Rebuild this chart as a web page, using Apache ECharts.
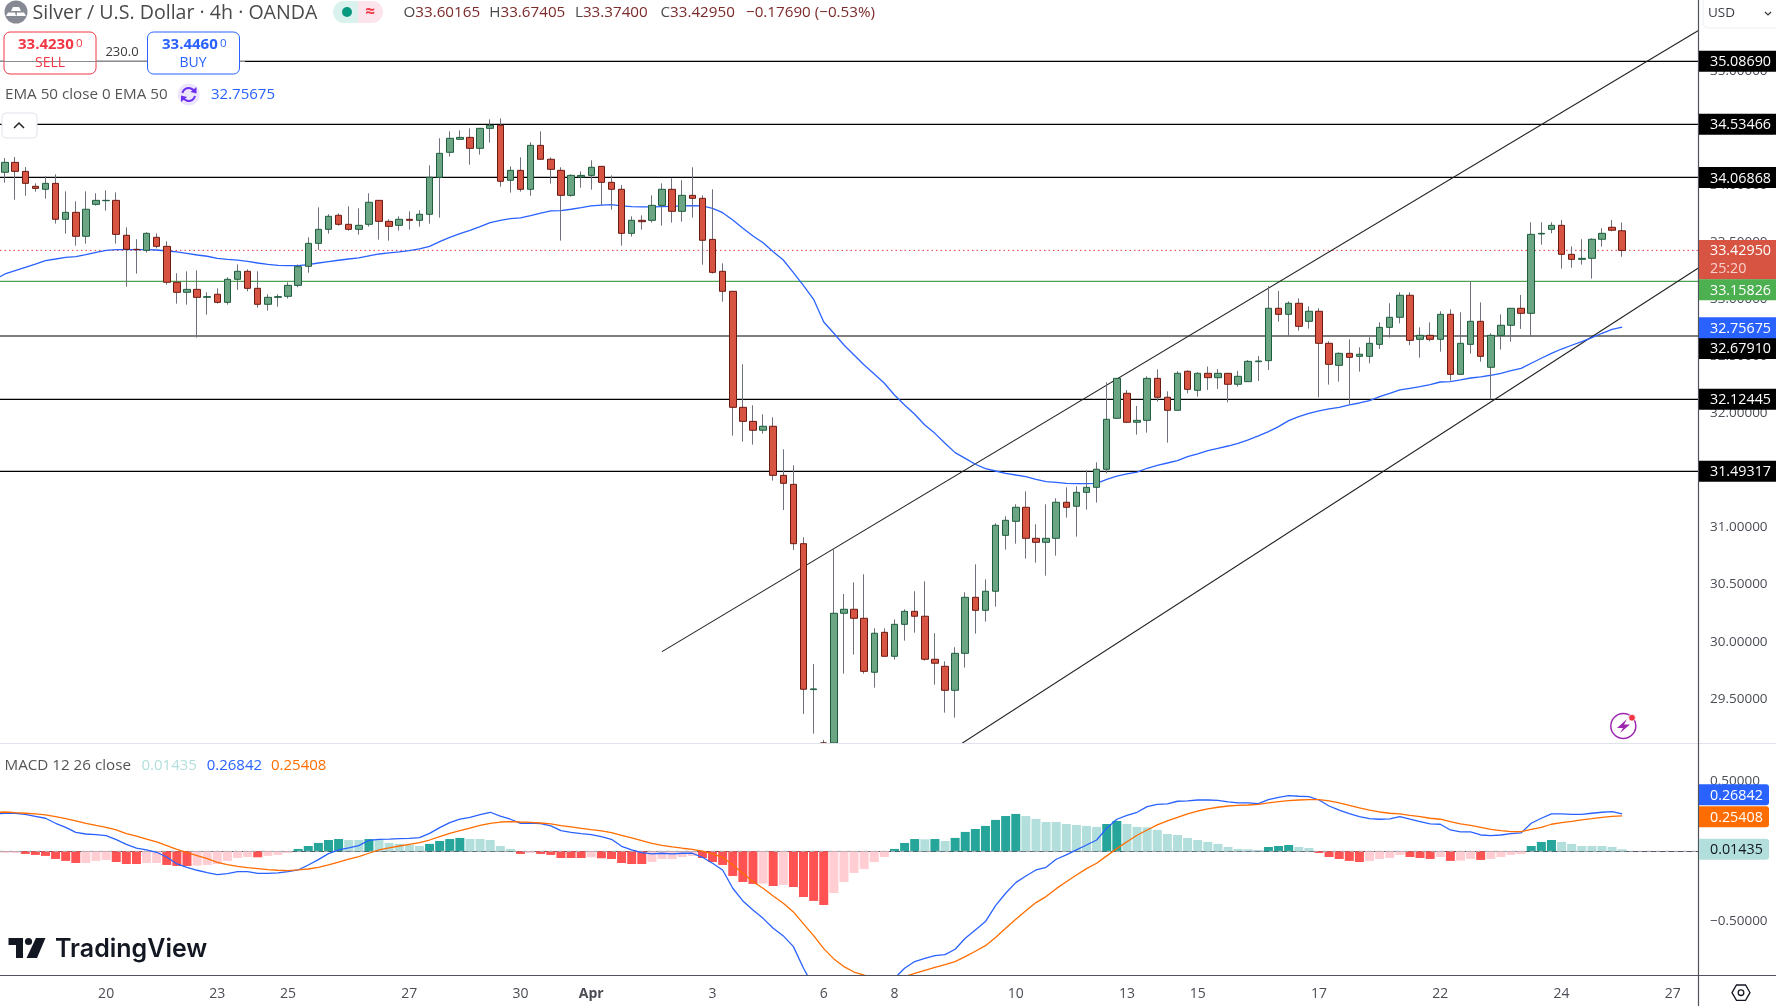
<!DOCTYPE html>
<html><head><meta charset="utf-8">
<style>html,body{margin:0;padding:0;background:#fff}#c{width:1776px;height:1006px}</style>
<script src="https://cdn.jsdelivr.net/npm/echarts@6/dist/echarts.min.js"></script>
</head><body><div id="c"></div>
<script>
const opens=[34.114,34.201,34.122,33.991,33.965,34.017,33.702,33.763,33.553,33.833,
33.865,33.868,33.562,33.439,33.430,33.544,33.465,33.150,33.062,33.088,
33.018,33.045,32.974,33.176,33.246,33.097,32.957,33.018,33.027,33.123,
33.290,33.491,33.614,33.737,33.658,33.614,33.658,33.868,33.684,33.649,
33.702,33.693,33.746,34.070,34.289,34.403,34.420,34.324,34.499,34.526,
34.044,34.131,33.965,34.350,34.228,34.131,33.912,34.073,34.087,34.166,
34.026,33.965,33.579,33.693,33.693,33.824,33.965,33.772,33.912,33.886,
33.526,33.246,33.071,32.054,31.931,31.853,31.888,31.458,31.379,30.859,
29.580,29.0,28.7,30.249,30.284,30.205,29.732,30.082,29.872,30.152,
30.266,30.223,29.846,29.784,29.574,29.898,30.389,30.275,30.442,30.932,
31.055,31.178,30.906,30.871,30.906,31.222,31.187,31.309,31.353,31.511,
31.958,32.177,31.923,31.940,32.308,32.142,32.028,32.370,32.203,32.352,
32.314,32.352,32.256,32.279,32.454,32.463,32.922,32.869,32.966,32.808,
32.896,32.615,32.422,32.527,32.501,32.501,32.606,32.755,32.843,33.036,
32.650,32.685,32.650,32.869,32.343,32.606,32.808,32.405,32.685,32.773,
32.922,32.878,33.573,33.614,33.649,33.395,33.351,33.360,33.527,33.632,
33.60165];
const closes=[34.201,34.122,34.017,33.973,34.017,33.702,33.763,33.553,33.790,33.868,
33.868,33.570,33.439,33.436,33.579,33.465,33.150,33.062,33.088,33.018,
33.024,32.974,33.176,33.246,33.097,32.957,33.018,33.024,33.123,33.287,
33.491,33.614,33.728,33.658,33.614,33.649,33.851,33.684,33.640,33.702,
33.693,33.746,34.070,34.280,34.412,34.420,34.324,34.499,34.526,34.035,
34.131,33.965,34.350,34.228,34.140,33.912,34.087,34.087,34.158,34.026,
33.965,33.579,33.693,33.681,33.824,33.965,33.772,33.912,33.886,33.518,
33.237,33.071,32.054,31.931,31.853,31.888,31.458,31.388,30.859,29.583,
29.586,28.7,30.249,30.284,30.205,29.740,30.074,29.872,30.152,30.266,
30.223,29.846,29.811,29.574,29.898,30.389,30.275,30.442,31.020,31.064,
31.178,30.906,30.871,30.906,31.222,31.178,31.309,31.353,31.511,31.949,
32.308,31.923,31.940,32.308,32.142,32.028,32.352,32.212,32.352,32.314,
32.352,32.256,32.326,32.457,32.460,32.922,32.869,32.966,32.764,32.896,
32.615,32.431,32.527,32.492,32.519,32.615,32.755,32.843,33.036,32.641,
32.685,32.650,32.869,32.343,32.615,32.808,32.501,32.685,32.773,32.922,
32.878,33.570,33.579,33.649,33.395,33.351,33.360,33.527,33.579,33.606,
33.42950];
const highs=[34.239,34.248,34.160,34.017,34.079,34.096,33.947,33.860,33.947,33.930,
33.956,33.938,33.632,33.527,33.588,33.579,33.509,33.229,33.246,33.255,
33.062,33.097,33.194,33.307,33.264,33.246,33.045,33.045,33.150,33.307,
33.544,33.807,33.746,33.754,33.816,33.798,33.930,33.868,33.702,33.728,
33.772,33.781,34.175,34.412,34.473,34.482,34.499,34.499,34.578,34.587,
34.166,34.245,34.377,34.473,34.245,34.158,34.096,34.122,34.219,34.166,
34.087,34.003,33.728,33.737,33.912,34.017,34.061,34.044,34.158,33.912,
33.965,33.316,33.071,32.431,32.072,31.993,31.967,31.686,31.546,30.915,
29.805,29.139,30.810,30.418,30.520,30.591,30.117,30.117,30.196,30.284,
30.442,30.529,30.074,29.828,29.951,30.433,30.678,30.547,31.038,31.099,
31.204,31.318,31.029,31.204,31.257,31.353,31.362,31.502,31.572,32.273,
32.308,32.206,32.066,32.326,32.387,32.194,32.370,32.378,32.361,32.411,
32.390,32.352,32.373,32.469,32.504,33.118,33.074,32.983,33.009,32.939,
32.922,32.633,32.536,32.650,32.580,32.668,32.799,32.966,33.062,33.062,
32.755,32.799,32.896,32.913,32.887,33.158,32.974,32.703,32.869,32.922,
33.039,33.676,33.676,33.676,33.696,33.465,33.527,33.535,33.623,33.696,
33.67405];
const lows=[34.023,33.874,33.909,33.944,33.883,33.664,33.576,33.471,33.489,33.822,
33.778,33.489,33.112,33.226,33.410,33.448,33.129,32.963,32.954,32.665,
32.866,32.963,32.954,33.083,33.071,32.928,32.901,32.936,33.007,33.106,
33.234,33.433,33.576,33.646,33.603,33.567,33.638,33.524,33.515,33.603,
33.611,33.638,33.664,33.716,34.251,34.403,34.181,34.269,34.374,33.988,
33.936,33.944,33.909,34.228,34.014,33.515,33.900,33.979,33.962,33.825,
33.786,33.471,33.550,33.611,33.673,33.646,33.673,33.681,33.716,33.304,
33.226,32.980,31.806,31.753,31.727,31.823,31.412,31.154,30.804,29.367,
29.194,28.4,28.5,29.720,29.887,29.720,29.597,29.869,29.843,30.009,
30.079,29.834,29.624,29.378,29.334,29.773,30.071,30.176,30.307,30.807,
30.859,30.728,30.693,30.579,30.754,31.087,30.921,31.157,31.219,31.476,
31.958,31.920,31.815,31.832,32.104,31.745,32.028,32.177,32.148,32.206,
32.215,32.098,32.235,32.276,32.285,32.381,32.805,32.674,32.726,32.744,
32.142,32.253,32.279,32.083,32.367,32.440,32.565,32.665,32.790,32.598,
32.489,32.633,32.542,32.288,32.343,32.525,32.454,32.124,32.560,32.630,
32.741,32.676,33.480,33.579,33.269,33.278,33.305,33.182,33.462,33.597,
33.37400];
const emaLead=33.199;
const ema=[33.223,33.252,33.281,33.310,33.340,33.354,33.369,33.375,33.392,33.413,
33.430,33.436,33.436,33.436,33.436,33.433,33.424,33.416,33.404,33.389,
33.378,33.360,33.351,33.345,33.334,33.319,33.307,33.299,33.296,33.296,
33.305,33.319,33.331,33.343,33.354,33.363,33.381,33.398,33.407,33.416,
33.427,33.442,33.465,33.506,33.544,33.576,33.605,33.638,33.673,33.693,
33.708,33.714,33.734,33.757,33.775,33.778,33.790,33.804,33.819,33.827,
33.830,33.819,33.813,33.810,33.810,33.813,33.816,33.819,33.822,33.819,
33.798,33.760,33.696,33.623,33.556,33.497,33.418,33.345,33.234,33.120,
33.001,32.802,32.703,32.600,32.513,32.425,32.346,32.265,32.162,32.075,
31.993,31.899,31.826,31.739,31.657,31.607,31.555,31.517,31.496,31.476,
31.461,31.447,31.423,31.403,31.397,31.388,31.385,31.385,31.388,31.423,
31.452,31.470,31.487,31.520,31.546,31.566,31.587,31.622,31.645,31.674,
31.695,31.715,31.739,31.768,31.803,31.841,31.885,31.937,31.972,32.002,
32.022,32.040,32.054,32.075,32.092,32.113,32.148,32.177,32.206,32.221,
32.235,32.253,32.276,32.279,32.294,32.311,32.320,32.335,32.352,32.376,
32.396,32.440,32.484,32.527,32.565,32.598,32.630,32.665,32.703,32.738,
32.75675];
const hist=[-.012,-.012,-.019,-.026,-.033,-.055,-.069,-.084,-.084,-.069,
-.062,-.077,-.091,-.091,-.084,-.084,-.098,-.105,-.105,-.103,
-.098,-.091,-.069,-.048,-.041,-.043,-.033,-.026,-.012,.017,
.038,.060,.081,.088,.081,.081,.088,.081,.060,.053,
.045,.038,.053,.074,.088,.096,.088,.088,.081,.038,
.017,-.019,-.012,-.019,-.026,-.048,-.048,-.048,-.043,-.050,
-.055,-.084,-.091,-.091,-.077,-.055,-.055,-.041,-.033,-.048,
-.077,-.098,-.177,-.220,-.234,-.232,-.249,-.241,-.256,-.328,
-.356,-.385,-.299,-.220,-.155,-.127,-.077,-.041,.017,.060,
.088,.086,.088,.074,.096,.139,.160,.182,.225,.253,
.268,.253,.232,.210,.210,.196,.189,.182,.175,.196,
.218,.196,.175,.172,.153,.124,.117,.096,.081,.067,
.053,.031,.017,.014,.010,.031,.038,.045,.031,.024,
-.012,-.041,-.055,-.069,-.077,-.069,-.055,-.048,-.026,-.041,
-.048,-.055,-.041,-.069,-.067,-.055,-.062,-.055,-.041,-.026,
-.019,.038,.067,.081,.067,.053,.038,.038,.038,.031,
.01435];
const toneRows=["pprrrrrrpp","prrrpprrrp","pppppppppg".slice(0,5)+"rpppg","ggggttgttt","ttggggtttt","trprrrrrpr","rrrrpppppr","rrrrrprprr","rrppppppgg","gtgtgggggg","gttttttttg","gttttttttt","tttttgggtt","rrrrrppppr","rrprpprppp","pgggtttttt","t"];
const macdLead=.270, signalLead=.280;
const macd=[.273,.273,.265,.251,.237,.201,.172,.136,.124,.120,
.112,.084,.050,.022,.010,-.007,-.041,-.091,-.115,-.136,
-.153,-.167,-.160,-.146,-.146,-.158,-.158,-.155,-.146,-.134,
-.098,-.060,-.017,.010,.024,.041,.079,.086,.088,.091,
.093,.098,.129,.170,.206,.230,.244,.263,.280,.253,
.230,.201,.203,.198,.182,.148,.136,.127,.120,.105,
.086,.036,.010,-.010,-.019,-.014,-.019,-.014,-.014,-.043,
-.086,-.134,-.265,-.356,-.421,-.481,-.552,-.607,-.684,-.839,
-.971,-1.090,-1.186,-1.258,-1.282,-1.258,-1.162,-1.019,-.911,-.839,
-.791,-.768,-.748,-.741,-.703,-.624,-.564,-.504,-.390,-.301,
-.225,-.177,-.134,-.115,-.057,-.026,.010,.045,.081,.165,
.230,.258,.280,.320,.337,.340,.359,.361,.368,.368,
.366,.354,.347,.347,.342,.371,.387,.399,.395,.392,
.368,.325,.296,.270,.249,.234,.230,.232,.249,.230,
.213,.196,.194,.153,.139,.139,.117,.112,.117,.127,
.132,.201,.237,.268,.268,.265,.265,.273,.280,.285,
.26842];
const signal=[.282,.277,.273,.268,.261,.249,.234,.218,.201,.186,
.172,.153,.127,.108,.088,.067,.041,.014,-.010,-.031,
-.053,-.079,-.096,-.108,-.117,-.124,-.132,-.136,-.139,-.134,
-.127,-.115,-.098,-.077,-.057,-.038,-.014,.010,.024,.038,
.050,.062,.081,.105,.129,.148,.167,.186,.201,.210,
.213,.210,.208,.203,.196,.184,.175,.165,.155,.146,
.134,.115,.096,.077,.057,.043,.031,.022,.014,.002,
-.019,-.043,-.098,-.158,-.218,-.265,-.320,-.373,-.435,-.521,
-.605,-.698,-.772,-.827,-.866,-.889,-.904,-.913,-.913,-.899,
-.875,-.854,-.832,-.813,-.791,-.756,-.717,-.677,-.619,-.552,
-.488,-.426,-.368,-.325,-.268,-.218,-.170,-.124,-.086,-.033,
.019,.069,.115,.153,.189,.218,.244,.268,.289,.304,
.316,.325,.330,.332,.337,.347,.356,.363,.368,.371,
.371,.361,.347,.330,.311,.296,.282,.273,.268,.258,
.249,.237,.230,.213,.196,.186,.172,.158,.148,.141,
.141,.158,.172,.194,.206,.215,.225,.234,.244,.251,
.25408];
const levels=[35.0869,34.53466,34.06868,32.6791,32.12445,31.49317];
const lastPrice=33.4295, greenLevel=33.15826, emaLast=32.75675;
const upperTrend=[[65,29.913],[167.5,35.355]];
const lowerTrend=[[90,28.842],[167.5,33.273]];
const priceTicks=[29.5,30,30.5,31,31.5,32,32.5,33,33.5,34,34.5,35];
const macdTicks=[-.5,.5];
const dateTicks=[[10,'20'],[21,'23'],[28,'25'],[40,'27'],[51,'30'],[58,'Apr'],[70,'3'],[81,'6'],[88,'8'],[100,'10'],[111,'13'],[118,'15'],[130,'17'],[142,'22'],[154,'24'],[165,'27']];

const BARS=168, PRICE_MIN=29.112, PRICE_MAX=35.624, FONT='"Open Sans",sans-serif';
const tones=toneRows.join("");
const cats=Array.from({length:BARS},(_,i)=>String(i));
const labelAt={}; dateTicks.forEach(d=>labelAt[d[0]]=d[1]);
const toneColor={r:'#ff5252',p:'#ffcdd2',g:'#26a69a',t:'#b2dfdb'};
const floorP=v=>Math.max(v,PRICE_MIN);

const chart=echarts.init(document.getElementById('c'),null,{renderer:'canvas',width:1776,height:1006});
const gridLine=(name,data,color,width,type,xi,yi,z)=>({name,type:'line',xAxisIndex:xi,yAxisIndex:yi,data,symbol:'none',silent:true,z:z||1,animation:false,lineStyle:{color,width,type:type||'solid'},clip:true});
const hl=v=>[[-.5,v],[167.5,v]];
const series=[];
levels.forEach(l=>series.push(gridLine('Level '+l,hl(l),'#000',1.2,'solid',2,0,1)));
series.push(gridLine('Last',hl(lastPrice),'#f23645',1,[1.5,3],2,0,1));
series.push(gridLine('Buy level',hl(greenLevel),'#4fa255',1.1,'solid',2,0,1));
series.push(gridLine('Upper channel',upperTrend,'#222',1.1,'solid',2,0,1));
series.push(gridLine('Lower channel',lowerTrend,'#222',1.1,'solid',2,0,1));
series.push(gridLine('EMA 50',[[-.5,emaLead]].concat(ema.map((v,i)=>[i,v])),'#2962ff',1.3,'solid',2,0,2));
series.push({name:'Wicks',type:'candlestick',xAxisIndex:0,yAxisIndex:0,barWidth:1,z:3,silent:true,clip:true,
  data:opens.map((o,i)=>[floorP(o),floorP(closes[i]),floorP(lows[i]),floorP(highs[i])]),
  itemStyle:{color:'#6f727c',color0:'#6f727c',borderColor:'#6f727c',borderColor0:'#6f727c',borderWidth:1}});
series.push({name:'Silver / U.S. Dollar',type:'candlestick',xAxisIndex:0,yAxisIndex:0,barWidth:7,z:4,silent:true,clip:true,
  data:opens.map((o,i)=>{const a=floorP(o),b=floorP(closes[i]);return [a,b,Math.min(a,b),Math.max(a,b)]}),
  itemStyle:{color:'#6ba583',color0:'#d75442',borderColor:'#1f5d3f',borderColor0:'#6b1a12',borderWidth:1}});
series.push({name:'Histogram',type:'bar',xAxisIndex:1,yAxisIndex:1,barWidth:9,z:2,silent:true,
  data:hist.map((v,i)=>({value:v,itemStyle:{color:toneColor[tones[i]]}}))});
series.push(gridLine('Zero',hl(0),'#b2b5be',1,[4,5],3,1,3));
series.push(gridLine('MACD',[[-.5,macdLead]].concat(macd.map((v,i)=>[i,v])),'#2962ff',1.3,'solid',3,1,4));
series.push(gridLine('Signal',[[-.5,signalLead]].concat(signal.map((v,i)=>[i,v])),'#ff6d00',1.3,'solid',3,1,5));

const axisText={color:'#4a4d55',fontSize:13.5,fontFamily:FONT};
chart.setOption({
  animation:false,backgroundColor:'#fff',
  grid:[{left:0,right:78,top:0,height:743},{left:0,right:78,top:744,height:231}],
  xAxis:[
    {type:'category',gridIndex:0,data:cats,show:false,boundaryGap:true},
    {type:'category',gridIndex:1,data:cats,boundaryGap:true,axisTick:{show:false},splitLine:{show:false},
      axisLine:{show:true,lineStyle:{color:'#50535e',width:1}},
      axisLabel:{interval:0,margin:12,...axisText,fontSize:14,hideOverlap:false,
        formatter:(v,i)=>{const t=labelAt[i];return !t?'':(t==='Apr'?'{b|Apr}':t)},
        rich:{b:{fontWeight:'bold',fontSize:14,color:'#4a4d55',fontFamily:FONT}}}},
    {type:'value',gridIndex:0,min:-.5,max:167.5,show:false},
    {type:'value',gridIndex:1,min:-.5,max:167.5,show:false}
  ],
  yAxis:[
    {type:'value',gridIndex:0,position:'right',min:PRICE_MIN,max:PRICE_MAX,scale:true,splitLine:{show:false},axisTick:{show:false},
      axisLine:{show:false},axisLabel:{...axisText,margin:12,customValues:priceTicks,formatter:v=>v.toFixed(5)}},
    {type:'value',gridIndex:1,position:'right',min:-.8874,max:.7697,splitLine:{show:false},axisTick:{show:false},
      axisLine:{show:false},axisLabel:{...axisText,margin:12,customValues:macdTicks,formatter:v=>v.toFixed(5).replace('-','\u2212')}}
  ],
  series
});

// overlay: header, price tags, logo
const T=(x,y,text,fill,size,o)=>({type:'text',z:100,x,y,style:{text,fill,font:(o&&o.weight||'normal')+' '+size+'px '+((o&&o.family)||FONT),textVerticalAlign:'middle',textAlign:(o&&o.align)||'left'}});
const R=(x,y,w,h,fill,stroke,r,lw)=>({type:'rect',z:90,shape:{x,y,width:w,height:h,r:r||0},style:{fill,stroke:stroke||null,lineWidth:lw||1}});
const L=(x1,y1,x2,y2,c,w)=>({type:'line',z:95,shape:{x1,y1,x2,y2},style:{stroke:c,lineWidth:w||1}});
const els=[];
els.push(L(0,743.5,1776,743.5,'#e0e3eb',1.2));
els.push(L(0,975.5,1776,975.5,'#50535e',1.2));
els.push(L(1698.5,0,1698.5,1006,'#50535e',1.2));
// title row
els.push({type:'circle',z:90,shape:{cx:16,cy:12,r:11.5},style:{fill:'#868a92'}});
els.push({type:'polygon',z:91,shape:{points:[[13,7],[19,7],[21,11],[11,11]]},style:{fill:'#fff'}});
els.push({type:'polygon',z:91,shape:{points:[[8,12.5],[15,12.5],[16,16],[6,16]]},style:{fill:'#fff'}});
els.push({type:'polygon',z:91,shape:{points:[[17,12.5],[24,12.5],[26,16],[16.5,16]]},style:{fill:'#fff'}});
els.push(T(32.5,13.5,'Silver / U.S. Dollar · 4h · OANDA','#4a4a4a',19.6));
els.push({type:'rect',z:90,shape:{x:333,y:1,width:25,height:22,r:[11,0,0,11]},style:{fill:'#d9f2ee'}});
els.push({type:'rect',z:90,shape:{x:358,y:1,width:25,height:22,r:[0,11,11,0]},style:{fill:'#fce4ec'}});
els.push({type:'circle',z:91,shape:{cx:347,cy:12,r:5},style:{fill:'#089981'}});
els.push(T(370,12,'≈','#f23645',17,{align:'center',weight:'bold'}));
const ohlcRich={l:{fill:'#4a4a4a',font:'15.2px '+FONT},v:{fill:'#7c2a2a',font:'15.2px '+FONT}};
[['O','33.60165',403.5],['H','33.67405',489.3],['L','33.37400',575],['C','33.42950',660.5]].forEach(g=>{
  els.push({type:'text',z:100,x:g[2],y:13,style:{text:'{l|'+g[0]+'}{v|'+g[1]+'}',rich:ohlcRich,textVerticalAlign:'middle',font:'15.2px '+FONT}});
});
els.push({type:'text',z:100,x:746,y:13,style:{text:'\u22120.17690 (\u22120.53%)',fill:'#7c2a2a',textVerticalAlign:'middle',font:'15.2px '+FONT}});
// sell / buy
els.push(L(0,61.5,147,61.5,'#8a8d95',1));
els.push(L(240,61.5,245,61.5,'#8a8d95',1));
els.push(R(4,32,92,42,'#fff','#f23645',6,1));
els.push(R(147.5,32,92,42,'#fff','#2962ff',6,1));
els.push(T(18,45,'33.4230','#f23645',15,{weight:'bold'}));
els.push(T(76,44,'0','#f23645',11.5));
els.push(T(50,63,'SELL','#f23645',14,{align:'center'}));
els.push(T(162,45,'33.4460','#2962ff',15,{weight:'bold'}));
els.push(T(220,44,'0','#2962ff',11.5));
els.push(T(193,63,'BUY','#2962ff',14,{align:'center'}));
els.push(T(122,52,'230.0','#3a3a3a',13,{align:'center'}));
// indicator legend
els.push(T(5,95,'EMA 50 close 0 EMA 50','#555',15.2));
els.push({type:'circle',z:90,shape:{cx:188.7,cy:94.5,r:11},style:{fill:'#ece5fd'}});
els.push({type:'arc',z:91,shape:{cx:188.7,cy:94.5,r:6.5,startAngle:-2.9,endAngle:-.5},style:{stroke:'#6a2ff0',lineWidth:2,fill:null}});
els.push({type:'arc',z:91,shape:{cx:188.7,cy:94.5,r:6.5,startAngle:.25,endAngle:2.65},style:{stroke:'#6a2ff0',lineWidth:2,fill:null}});
els.push({type:'polygon',z:91,shape:{points:[[196.5,87],[196.5,93.5],[190.5,92]]},style:{fill:'#6a2ff0'}});
els.push({type:'polygon',z:91,shape:{points:[[181,102],[181,95.5],[187,97]]},style:{fill:'#6a2ff0'}});
els.push(T(211,95,'32.75675','#2962ff',15));
els.push(R(2,113,35,25,'#fff','#e0e3eb',4,1));
els.push({type:'polyline',z:95,shape:{points:[[14,128],[19,123],[24,128]]},style:{stroke:'#222',lineWidth:1.5,fill:null}});
// currency
els.push(R(1703,-4,80,32,'#fff','#eceef2',5,1));
els.push(T(1708,13.5,'USD','#3a3d46',13.5));
els.push({type:'polyline',z:95,shape:{points:[[1765,12],[1768,15],[1771,12]]},style:{stroke:'#333',lineWidth:1.2,fill:null}});
// macd legend
els.push(T(4.5,765.5,'MACD 12 26 close','#555',15.2));
els.push(T(141.5,765.5,'0.01435','#b2dfdb',15));
els.push(T(206.7,765.5,'0.26842','#2962ff',15));
els.push(T(271,765.5,'0.25408','#ff6d00',15));
// logo
els.push({type:'polygon',z:100,shape:{points:[[8.5,938],[23,938],[23,958],[16,958],[16,945],[8.5,945]]},style:{fill:'#131722'}});
els.push({type:'circle',z:100,shape:{cx:28.5,cy:941.5,r:3.6},style:{fill:'#131722'}});
els.push({type:'polygon',z:100,shape:{points:[[36,938],[45.5,938],[37,958],[26.5,958]]},style:{fill:'#131722'}});
els.push(T(55,949,'TradingView','#131722',25,{weight:'600',family:'Inter,sans-serif'}));
// lightning
els.push({type:'circle',z:100,shape:{cx:1623.3,cy:726,r:12.5},style:{fill:'#fff',stroke:'#9c27b0',lineWidth:1.5}});
els.push({type:'polygon',z:101,shape:{points:[[1627,719],[1617,728],[1623,728],[1620,733],[1630,724.5],[1624,724.5]]},style:{fill:'#9c27b0'}});
els.push({type:'circle',z:102,shape:{cx:1632,cy:717.7,r:3.3},style:{fill:'#f23645',stroke:'#fff',lineWidth:.6}});
// settings hex
els.push({type:'polygon',z:100,shape:{points:[[1732,992.7],[1736.5,985],[1745.5,985],[1750,992.7],[1745.5,1000.4],[1736.5,1000.4]]},style:{fill:'#fff',stroke:'#131722',lineWidth:1.3}});
els.push({type:'circle',z:101,shape:{cx:1741,cy:992.7,r:2.8},style:{fill:'#fff',stroke:'#131722',lineWidth:1.3}});
// price tags: placed from the axis scale, nudged only where they would collide
function tag(axis,val,text,bg,fg,nudge,opts){
  opts=opts||{};
  const cy=chart.convertToPixel({yAxisIndex:axis},val)+(nudge||0);
  const h=opts.h||21, w=opts.w||77.5;
  els.push({type:'rect',z:105,shape:{x:1699,y:cy-10.5,width:w,height:h,r:opts.r||0},style:{fill:bg}});
  els.push({type:'text',z:106,x:1710,y:cy+1,style:{text,fill:fg,font:'14.3px '+FONT,textVerticalAlign:'middle'}});
}
const tagText=v=>v.toFixed(5);
levels.forEach(l=>tag(0,l,tagText(l),'#000','#fff',(l===32.6791?12.4:0)));
tag(0,lastPrice,tagText(lastPrice),'#d75442','#fff',0,{h:39.5});
els.push({type:'text',z:106,x:1710,y:269,style:{text:'25:20',fill:'#f7d2cc',font:'14.3px '+FONT,textVerticalAlign:'middle'}});
tag(0,greenLevel,tagText(greenLevel),'#4caf50','#fff',8.4);
tag(0,emaLast,tagText(emaLast),'#2962ff','#fff',.6);
tag(1,macd[macd.length-1],macd[macd.length-1].toFixed(5),'#2962ff','#fff',-19.2,{w:70,r:[0,3,3,0]});
tag(1,signal[signal.length-1],signal[signal.length-1].toFixed(5),'#ff6d00','#fff',.8,{w:70,r:[0,3,3,0]});
tag(1,hist[hist.length-1],hist[hist.length-1].toFixed(5),'#b2dfdb','#131722',0,{w:70,r:[0,3,3,0]});
chart.setOption({graphic:{elements:els}});
</script>
</body></html>
